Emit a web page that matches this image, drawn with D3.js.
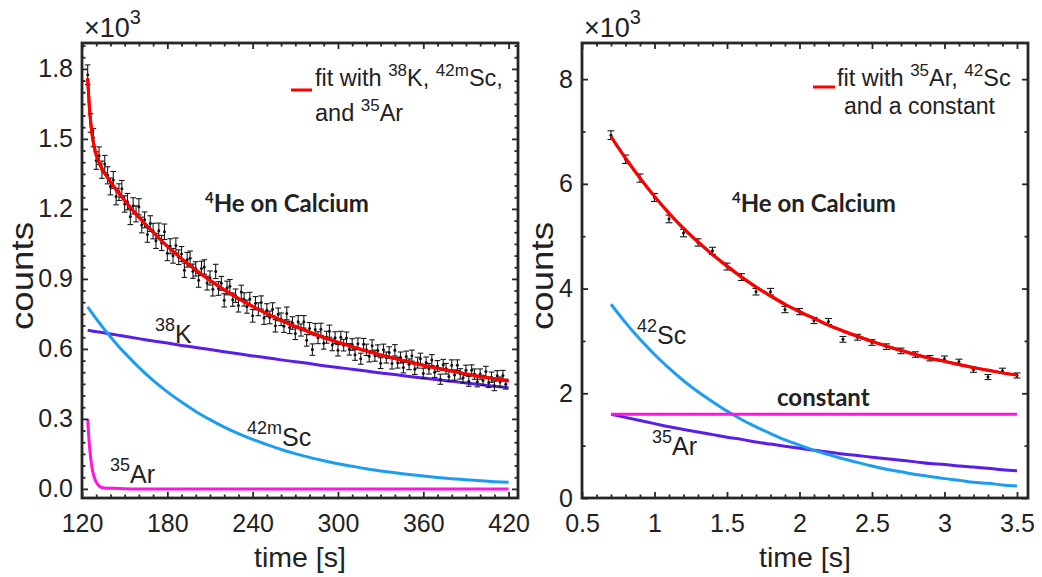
<!DOCTYPE html>
<html><head><meta charset="utf-8">
<script src="https://cdn.jsdelivr.net/npm/d3@7"></script>
<style>
body{margin:0;background:#fff}
svg{display:block}
text{font-family:"Liberation Sans",Arial,sans-serif;fill:#222}
</style></head><body>
<svg id="c" width="1042" height="577"></svg>
<script>
// ---------- LEFT PANEL DATA (counts in units of 10^3) ----------
const leftTimes = d3.range(124, 420, 2);
const leftCounts = [1.775,1.568,1.505,1.407,1.428,1.368,1.392,1.344,1.296,1.324,
1.253,1.272,1.286,1.221,1.231,1.167,1.213,1.179,1.209,1.131,
1.153,1.090,1.137,1.105,1.063,1.106,1.054,1.102,1.010,1.040,
0.999,1.043,0.993,1.007,0.937,0.982,0.988,0.933,0.943,0.894,
0.945,0.951,0.882,0.904,0.856,0.932,0.859,0.881,0.808,0.861,
0.868,0.811,0.828,0.786,0.844,0.812,0.781,0.814,0.742,0.796,
0.770,0.799,0.732,0.766,0.735,0.770,0.699,0.748,0.727,0.697,
0.752,0.692,0.711,0.666,0.716,0.681,0.716,0.637,0.687,0.597,
0.683,0.648,0.684,0.624,0.650,0.676,0.617,0.648,0.594,0.650,
0.616,0.647,0.598,0.619,0.575,0.622,0.558,0.620,0.596,0.568,
0.614,0.571,0.593,0.539,0.596,0.563,0.585,0.537,0.594,0.541,
0.563,0.520,0.567,0.534,0.571,0.513,0.541,0.558,0.495,0.542,
0.515,0.552,0.500,0.527,0.470,0.532,0.515,0.482,0.530,0.488,
0.530,0.493,0.476,0.508,0.461,0.509,0.492,0.459,0.492,0.465,
0.503,0.456,0.479,0.442,0.485,0.458,0.486,0.449];
const leftCurveT = [124,125,126,127,128,129,130,132,134,136,138,140,145,150,
160,170,180,190,200,210,220,230,240,250,260,270,280,290,300,310,320,330,340,350,360,370,380,390,400,410,420];
const leftFit = [1.760,1.654,1.578,1.524,1.485,1.455,1.432,1.398,1.373,1.352,1.334,1.316,1.275,1.236,
1.164,1.100,1.040,0.987,0.938,0.894,0.853,0.816,0.782,0.751,0.722,0.696,0.672,0.649,0.629,0.609,0.591,0.574,0.559,0.544,0.530,0.517,0.505,0.493,0.482,0.472,0.462];
const left38K = [0.680,0.679,0.678,0.677,0.676,0.675,0.674,0.672,0.670,0.668,0.666,0.664,0.659,0.654,
0.644,0.634,0.625,0.615,0.606,0.597,0.588,0.579,0.570,0.562,0.553,0.545,0.537,0.528,0.520,0.513,0.505,0.497,0.490,0.482,0.475,0.468,0.461,0.454,0.447,0.440,0.434];
const left42mSc = [0.780,0.771,0.763,0.754,0.746,0.737,0.729,0.713,0.697,0.682,0.667,0.652,0.616,0.583,
0.521,0.465,0.416,0.372,0.332,0.297,0.265,0.237,0.212,0.190,0.169,0.151,0.135,0.121,0.108,0.097,0.086,0.077,0.069,0.062,0.055,0.049,0.044,0.039,0.035,0.031,0.028];
const left35Ar = [0.300,0.203,0.138,0.093,0.063,0.043,0.029,0.013,0.006,0.004,0.003,0.003,0.002,0.001,
0,0,0,0,0,0,0,0,0,0,0,0,0,0,0,0,0,0,0,0,0,0,0,0,0,0,0];
const leftXTicks = [120,180,240,300,360,420];
const leftYTicks = [0,0.3,0.6,0.9,1.2,1.5,1.8];
const leftYTickLabels = ["0.0","0.3","0.6","0.9","1.2","1.5","1.8"];

// ---------- RIGHT PANEL DATA (counts in units of 10^3) ----------
const rightTimes = [0.7,0.8,0.9,1.0,1.1,1.2,1.3,1.4,1.5,1.6,1.7,1.8,1.9,2.0,2.1,2.2,2.3,2.4,2.5,2.6,2.7,2.8,2.9,3.0,3.1,3.2,3.3,3.4,3.5];
const rightCounts = [6.93,6.47,6.11,5.74,5.33,5.06,4.88,4.72,4.42,4.22,3.94,3.94,3.60,3.56,3.39,3.37,3.03,3.07,2.97,2.89,2.81,2.74,2.67,2.66,2.60,2.45,2.31,2.43,2.34];
const rightFit = [6.90,6.49,6.11,5.76,5.44,5.15,4.89,4.65,4.43,4.22,4.03,3.86,3.70,3.56,3.43,3.30,3.19,3.09,2.99,2.90,2.82,2.74,2.67,2.61,2.55,2.49,2.44,2.39,2.35];
const right42Sc = [3.70,3.35,3.03,2.74,2.48,2.24,2.03,1.84,1.66,1.50,1.36,1.23,1.11,1.01,0.91,0.83,0.75,0.68,0.61,0.55,0.50,0.45,0.41,0.37,0.34,0.30,0.28,0.25,0.23];
const right35Ar = [1.60,1.54,1.48,1.42,1.36,1.31,1.26,1.21,1.16,1.12,1.07,1.03,0.99,0.95,0.91,0.88,0.84,0.81,0.78,0.75,0.72,0.69,0.66,0.64,0.61,0.59,0.57,0.54,0.52];
const rightConstT = [0.7, 3.5];
const rightConst = [1.6, 1.6];
const rightXTicks = [0.5,1,1.5,2,2.5,3,3.5];
const rightYTicks = [0,2,4,6,8];

// ---------- STYLE ----------
const C = {fit:"#ff0000", purple:"#5a1ee8", blue:"#1e9cf2", magenta:"#ff14e0", axis:"#262626"};
const svg = d3.select("#c");

function rich(g, x, y, parts, size, opts={}) {
  const t = g.append("text").attr("x", x).attr("y", y).style("font-size", size + "px");
  if (opts.family) t.style("font-family", opts.family);
  if (opts.weight) t.style("font-weight", opts.weight);
  if (opts.anchor) t.attr("text-anchor", opts.anchor);
  const supSize = opts.sup || Math.round(size * 0.68);
  const raise = opts.raise || Math.round(size * 0.42);
  let up = false;
  parts.forEach(([s, sup]) => {
    const ts = t.append("tspan").text(s);
    if (sup) { ts.style("font-size", supSize + "px"); if (!up) { ts.attr("dy", -raise); up = true; } }
    else { if (up) { ts.attr("dy", raise); up = false; } }
  });
  return t;
}

function panel(cfg) {
  const g = svg.append("g");
  const x = d3.scaleLinear().domain(cfg.xDom).range([cfg.L, cfg.R]);
  const y = d3.scaleLinear().domain(cfg.yDom).range([cfg.B, cfg.T]);
  const W = cfg.R - cfg.L, H = cfg.B - cfg.T;

  const line = (xs, ys) => d3.line().curve(d3.curveMonotoneX)
    .x((d, i) => x(xs[i])).y((d) => y(d))(ys);
  cfg.curves.forEach(c => {
    g.append("path").attr("d", line(c.t, c.v)).attr("fill", "none")
      .attr("stroke", c.color).attr("stroke-width", 3).attr("stroke-linejoin", "round");
  });

  // data with error bars (Poisson: sqrt(N))
  const eg = g.append("g").attr("stroke", "#1a1a1a").attr("stroke-width", 1.1);
  const n = Math.min(cfg.dt.length, cfg.dv.length);
  for (let i = 0; i < n; i++) {
    const v = cfg.dv[i], e = Math.sqrt(v * 1000) / 1000;
    const px = x(cfg.dt[i]), y1 = y(v - e), y2 = y(v + e);
    eg.append("line").attr("x1", px).attr("x2", px).attr("y1", y1).attr("y2", y2);
    eg.append("line").attr("x1", px - cfg.cap).attr("x2", px + cfg.cap).attr("y1", y1).attr("y2", y1);
    eg.append("line").attr("x1", px - cfg.cap).attr("x2", px + cfg.cap).attr("y1", y2).attr("y2", y2);
    g.append("circle").attr("cx", px).attr("cy", y(v)).attr("r", 1.5).attr("fill", "#111");
  }
  const f = cfg.curves[0];
  g.append("path").attr("d", line(f.t, f.v)).attr("fill", "none")
    .attr("stroke", f.color).attr("stroke-width", 3);

  const fs = "25px";
  const styleAx = a => { a.select(".domain").remove(); a.selectAll("line").attr("stroke", C.axis).attr("stroke-width", 1.8);
    a.selectAll("text").style("font-size", fs).style("fill", "#222"); };
  g.append("g").attr("transform", `translate(0,${cfg.B})`)
    .call(d3.axisBottom(x).tickValues(cfg.xTicks).tickSize(-6).tickPadding(16).tickFormat(cfg.xFmt)).call(styleAx);
  g.append("g").attr("transform", `translate(0,${cfg.B})`)
    .call(d3.axisBottom(x).tickValues(cfg.xMinor).tickSize(-3.5).tickFormat("")).call(styleAx);
  g.append("g").attr("transform", `translate(0,${cfg.T})`)
    .call(d3.axisTop(x).tickValues(cfg.xTicks).tickSize(-6).tickFormat("")).call(styleAx);
  g.append("g").attr("transform", `translate(0,${cfg.T})`)
    .call(d3.axisTop(x).tickValues(cfg.xMinor).tickSize(-3.5).tickFormat("")).call(styleAx);
  g.append("g").attr("transform", `translate(${cfg.L},0)`)
    .call(d3.axisLeft(y).tickValues(cfg.yTicks).tickSize(-6).tickPadding(9).tickFormat(cfg.yFmt)).call(styleAx);
  g.append("g").attr("transform", `translate(${cfg.L},0)`)
    .call(d3.axisLeft(y).tickValues(cfg.yMinor).tickSize(-3.5).tickFormat("")).call(styleAx);
  g.append("g").attr("transform", `translate(${cfg.R},0)`)
    .call(d3.axisRight(y).tickValues(cfg.yTicks).tickSize(-6).tickFormat("")).call(styleAx);
  g.append("g").attr("transform", `translate(${cfg.R},0)`)
    .call(d3.axisRight(y).tickValues(cfg.yMinor).tickSize(-3.5).tickFormat("")).call(styleAx);

  g.append("rect").attr("x", cfg.L).attr("y", cfg.T).attr("width", W).attr("height", H)
    .attr("fill", "none").attr("stroke", C.axis).attr("stroke-width", 2.8);

  rich(g, cfg.L + 2, 37, [["\u00d710", false], ["3", true]], 27, {sup: 20, raise: 13});
  g.append("text").attr("x", (cfg.L + cfg.R) / 2).attr("y", 567).attr("text-anchor", "middle")
    .style("font-size", "28.5px").text("time [s]");
  g.append("text").attr("transform", `translate(${cfg.yLabX},276) rotate(-90)`).attr("text-anchor", "middle")
    .style("font-size", "31px").attr("textLength", 108).attr("lengthAdjust", "spacingAndGlyphs").text("counts");
  rich(g, cfg.annX, 212, [["4", true], ["He on Calcium", false]], 24,
    {family: "Lato, 'Open Sans', sans-serif", weight: "bold", sup: 15, raise: 9});
  return {g, x, y};
}

// LEFT
const Lp = panel({
  L: 82, R: 518, T: 43, B: 498, xDom: [120, 426.6], yDom: [-0.039, 1.911],
  xTicks: leftXTicks, xMinor: d3.range(130, 427, 10).filter(v => v % 60 !== 0),
  yTicks: leftYTicks, yMinor: d3.range(0, 1.91, 0.05).filter((v, i) => i % 6 !== 0),
  xFmt: d => d, yFmt: (d, i) => leftYTickLabels[i],
  dt: leftTimes, dv: leftCounts, cap: 2.8,
  curves: [
    {t: leftCurveT, v: leftFit, color: C.fit},
    {t: leftCurveT, v: left38K, color: C.purple},
    {t: leftCurveT, v: left42mSc, color: C.blue},
    {t: leftCurveT, v: left35Ar, color: C.magenta}
  ],
  yLabX: 33, annX: 205
});
Lp.g.append("line").attr("x1", 291).attr("x2", 312).attr("y1", 90).attr("y2", 90).attr("stroke", C.fit).attr("stroke-width", 3);
rich(Lp.g, 315, 86, [["fit with ", false], ["38", true], ["K, ", false], ["42m", true], ["Sc,", false]], 23.5, {sup: 17, raise: 10});
rich(Lp.g, 315, 121, [["and ", false], ["35", true], ["Ar", false]], 23.5, {sup: 17, raise: 10});
rich(Lp.g, 155, 343, [["38", true], ["K", false]], 25, {sup: 18, raise: 12});
rich(Lp.g, 247, 446, [["42m", true], ["Sc", false]], 25, {sup: 18, raise: 12});
rich(Lp.g, 110, 483, [["35", true], ["Ar", false]], 25, {sup: 18, raise: 12});

// RIGHT
const Rp = panel({
  L: 582, R: 1028, T: 43, B: 498, xDom: [0.5, 3.576], yDom: [0, 8.69],
  xTicks: rightXTicks, xMinor: d3.range(6, 36, 1).filter(v => v % 5 !== 0).map(v => v / 10),
  yTicks: rightYTicks, yMinor: [1, 3, 5, 7],
  xFmt: d => d, yFmt: d => d,
  dt: rightTimes, dv: rightCounts, cap: 3.5,
  curves: [
    {t: rightTimes, v: rightFit, color: C.fit},
    {t: rightTimes, v: right35Ar, color: C.purple},
    {t: rightTimes, v: right42Sc, color: C.blue},
    {t: rightConstT, v: rightConst, color: C.magenta}
  ],
  yLabX: 553, annX: 732
});
Rp.g.append("line").attr("x1", 813).attr("x2", 835).attr("y1", 87).attr("y2", 87).attr("stroke", C.fit).attr("stroke-width", 3);
rich(Rp.g, 837, 86, [["fit with ", false], ["35", true], ["Ar, ", false], ["42", true], ["Sc", false]], 23.5, {sup: 17, raise: 10});
rich(Rp.g, 844, 114, [["and a constant", false]], 23);
rich(Rp.g, 637, 344, [["42", true], ["Sc", false]], 25, {sup: 18, raise: 12});
rich(Rp.g, 652, 455, [["35", true], ["Ar", false]], 25, {sup: 18, raise: 12});
Rp.g.append("text").attr("x", 777).attr("y", 406).style("font-family", "Lato, 'Open Sans', sans-serif")
  .style("font-weight", "bold").style("font-size", "24px").text("constant");
</script></body></html>
